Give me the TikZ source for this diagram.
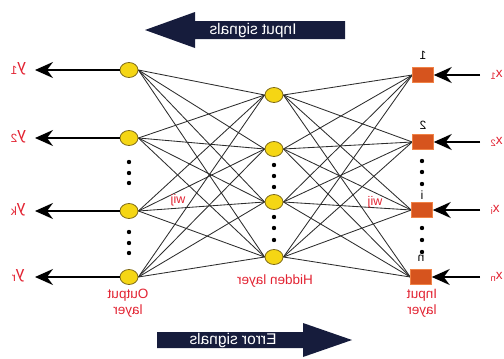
\documentclass[tikz,border=0pt]{standalone}
\usepackage{graphicx}
\usepackage{fontspec}
\setmainfont{Liberation Sans}
\usetikzlibrary{arrows.meta,shapes.geometric,backgrounds}

\definecolor{sigred}{RGB}{226,35,50}
\definecolor{navy}{RGB}{22,28,60}
\definecolor{neuronfill}{RGB}{245,214,20}
\definecolor{neuronedge}{RGB}{125,105,25}
\definecolor{unitfill}{RGB}{214,84,30}
\definecolor{unitedge}{RGB}{240,130,70}
\definecolor{wirecol}{RGB}{45,45,45}

% all lettering is drawn mirrored
\newcommand{\mir}[1]{\reflectbox{#1}}

\tikzset{
  neuron/.style={ellipse, draw=neuronedge, line width=0.8pt, fill=neuronfill,
    minimum width=18pt, minimum height=15pt, inner sep=0pt},
  inunit/.style={rectangle, fill=unitfill, draw=unitedge, line width=0.5pt,
    minimum width=21pt, minimum height=15pt, inner sep=0pt},
  wire/.style={draw=wirecol, line width=0.85pt},
  flow/.style={line width=2pt, -{Stealth[length=18pt,width=16pt,inset=6pt]}},
  lbl/.style={text=sigred, font=\fontsize{13.5}{16}\selectfont, align=center, inner sep=0pt},
  sig/.style={text=sigred, font=\fontsize{17}{18}\selectfont, inner sep=0pt},
  idx/.style={text=black, font=\fontsize{12}{14}\selectfont, inner sep=0pt},
  banner/.style={fill=navy, draw=none},
  bannertext/.style={text=white, font=\fontsize{15.5}{17}\selectfont, inner sep=0pt},
  vdot/.style={fill=black}
}

\begin{document}
\begin{tikzpicture}[x=1pt,y=-1pt]
\useasboundingbox (0,0) rectangle (504,359);
\clip (0,0) rectangle (504,359);

% banner arrows
\fill[banner] (345,21) -- (195,21) -- (195,12) -- (145,30) -- (195,48) -- (195,39) -- (345,39) -- cycle;
\node[bannertext] (insig) at (253,30) {\mir{Input signals}};
\fill[banner] (157,332) -- (303,332) -- (303,323) -- (352,340) -- (303,357) -- (303,348) -- (157,348) -- cycle;
\node[bannertext] (errsig) at (233,340) {\mir{Error signals}};

% input units
\node[inunit] (s1) at (423,75) {};
\node[inunit] (s2) at (423,142) {};
\node[inunit] (s3) at (422,210) {};
\node[inunit] (s4) at (421,277) {};

% hidden neurons
\node[neuron] (h1) at (274,95) {};
\node[neuron] (h2) at (274,149) {};
\node[neuron] (h3) at (274,202) {};
\node[neuron] (h4) at (274,257) {};

% output neurons
\node[neuron] (o1) at (129,70) {};
\node[neuron] (o2) at (129,138) {};
\node[neuron] (o3) at (129,211) {};
\node[neuron] (o4) at (129,277) {};

% full connections, kept behind the units
\begin{scope}[on background layer]
\foreach \i in {1,...,4}{
  \foreach \j in {1,...,4}{
    \draw[wire] (s\i.west) -- (h\j.east);
    \draw[wire] (h\j.west) -- (o\i.east);
  }
}
\end{scope}

% vertical ellipsis dots
\foreach \y in {162,173,183,232,243,253}{ \fill[vdot] (129,\y) circle (2.2); }
\foreach \y in {165,176,187,217,228,240}{ \fill[vdot] (274,\y) circle (2.2); }
\foreach \y in {161,172,184,228,240,252}{ \fill[vdot] (422,\y) circle (2.2); }

% output signals
\coordinate (y1) at (35,70);
\coordinate (y2) at (35,138);
\coordinate (y3) at (35,211);
\coordinate (y4) at (35,277);
\foreach \k in {1,...,4}{ \draw[flow] (o\k.west) -- (y\k); }
\node[sig] (ly1) at (18,69) {\mir{y\textsubscript{1}}};
\node[sig] (ly2) at (18,137) {\mir{y\textsubscript{2}}};
\node[sig] (ly3) at (18,210) {\mir{y\textsubscript{k}}};
\node[sig] (ly4) at (18,276) {\mir{y\textsubscript{r}}};

% input signals
\coordinate (x1) at (480,75);
\coordinate (x2) at (480,142);
\coordinate (x3) at (480,210);
\coordinate (x4) at (480,277);
\foreach \k in {1,...,4}{ \draw[flow] (x\k) -- (s\k.east); }
\node[lbl, anchor=west] (lx1) at (490,75) {\mir{x\textsubscript{1}}};
\node[lbl, anchor=west] (lx2) at (490,142) {\mir{x\textsubscript{2}}};
\node[lbl, anchor=west] (lx3) at (490,210) {\mir{x\textsubscript{i}}};
\node[lbl, anchor=west] (lx4) at (490,277) {\mir{x\textsubscript{n}}};

% unit indices
\node[idx] (n1) at (423,55) {\mir{1}};
\node[idx] (n2) at (423,125) {\mir{2}};
\node[idx] (n3) at (422,195) {\mir{i}};
\node[idx] (n4) at (421,258) {\mir{n}};

% weights
\node[lbl, font=\fontsize{12.5}{14}\selectfont] (w1) at (178,200) {\mir{wij}};
\node[lbl, font=\fontsize{12.5}{14}\selectfont] (w2) at (375,202) {\mir{wij}};

% layer names
\node[lbl] (lout) at (128,303) {\mir{Output}\\\mir{layer}};
\node[lbl] (lhid) at (275,281) {\mir{Hidden layer}};
\node[lbl] (linp) at (422,303) {\mir{Input}\\\mir{layer}};
\end{tikzpicture}
\end{document}
